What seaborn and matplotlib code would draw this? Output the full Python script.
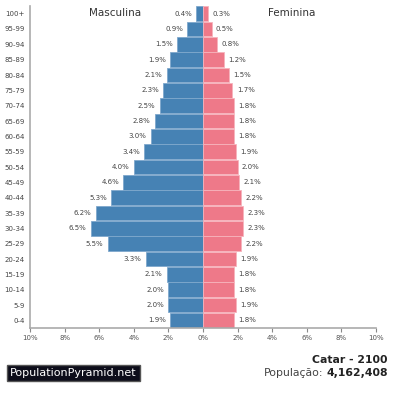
import numpy as np
import pandas as pd
import matplotlib
matplotlib.use('Agg')
import matplotlib.pyplot as plt
import seaborn as sns

# Age groups, top to bottom
ages = ['100+', '95-99', '90-94', '85-89', '80-84', '75-79', '70-74', '65-69',
        '60-64', '55-59', '50-54', '45-49', '40-44', '35-39', '30-34', '25-29',
        '20-24', '15-19', '10-14', '5-9', '0-4']
male = [0.4, 0.9, 1.5, 1.9, 2.1, 2.3, 2.5, 2.8, 3.0, 3.4, 4.0, 4.6, 5.3, 6.2,
        6.5, 5.5, 3.3, 2.1, 2.0, 2.0, 1.9]
female = [0.3, 0.5, 0.8, 1.2, 1.5, 1.7, 1.8, 1.8, 1.8, 1.9, 2.0, 2.1, 2.2, 2.3,
          2.3, 2.2, 1.9, 1.8, 1.8, 1.9, 1.8]
xticks = [-10, -8, -6, -4, -2, 0, 2, 4, 6, 8, 10]

df = pd.DataFrame({'age': ages, 'male': [-v for v in male], 'female': female})

sns.set_style('white')
plt.rcParams['font.family'] = ['DejaVu Sans']

fig = plt.figure(figsize=(3.96, 4.0), dpi=100)
ax = fig.add_axes([30 / 396, 1 - 328 / 400, 346 / 396, 322 / 400])

male_c = '#4682b4'
fem_c = '#ee7989'
sns.barplot(data=df, y='age', x='male', order=ages, orient='h', color=male_c,
            saturation=1, width=0.94, edgecolor='#7fa8cc', linewidth=0.6, ax=ax)
sns.barplot(data=df, y='age', x='female', order=ages, orient='h', color=fem_c,
            saturation=1, width=0.94, edgecolor='#f6b3bc', linewidth=0.6, ax=ax)

txt_c = '#444444'
for i, (m, f) in enumerate(zip(male, female)):
    ax.text(-m - 0.25, i, f'{m:.1f}%', ha='right', va='center', fontsize=5, color=txt_c)
    ax.text(f + 0.25, i, f'{f:.1f}%', ha='left', va='center', fontsize=5, color=txt_c)

ax.set_xlim(-10, 10)
ax.set_ylim(20.5, -0.5)
ax.set_xticks(xticks)
ax.set_xticklabels([f'{abs(t)}%' for t in xticks])
ax.set_xlabel('')
ax.set_ylabel('')
ax.tick_params(axis='x', labelsize=5, colors='#888888', labelcolor='#555555',
               length=3, width=0.8, pad=2, bottom=True)
ax.tick_params(axis='y', labelsize=5, labelcolor='#444444', length=0, pad=4)
for s in ['top', 'right']:
    ax.spines[s].set_visible(False)
for s in ['left', 'bottom']:
    ax.spines[s].set_color('#aaaaaa')
    ax.spines[s].set_linewidth(1.2)

ax.text(-5.1, -0.05, 'Masculina', ha='center', va='center', fontsize=7.5, color='#333333')
ax.text(5.1, -0.05, 'Feminina', ha='center', va='center', fontsize=7.5, color='#333333')

fig.text(388 / 396, 1 - 360 / 400, 'Catar - 2100', ha='right', va='center',
         fontsize=7.8, fontweight='bold', color='#222222')
num = fig.text(388 / 396, 1 - 373 / 400, '4,162,408', ha='right', va='center',
               fontsize=7.8, fontweight='bold', color='#222222')
fig.canvas.draw()
bb = num.get_window_extent(renderer=fig.canvas.get_renderer())
fig.text((bb.x0 - 3) / 396, 1 - 373 / 400, 'População:', ha='right', va='center',
         fontsize=7.8, color='#444444')
fig.text(10 / 396, 1 - 373 / 400, 'PopulationPyramid.net', ha='left', va='center',
         fontsize=8, color='white',
         bbox=dict(boxstyle='square,pad=0.3', facecolor='#0d0d1a', edgecolor='#555555'))

fig.savefig('out.png', dpi=100)
